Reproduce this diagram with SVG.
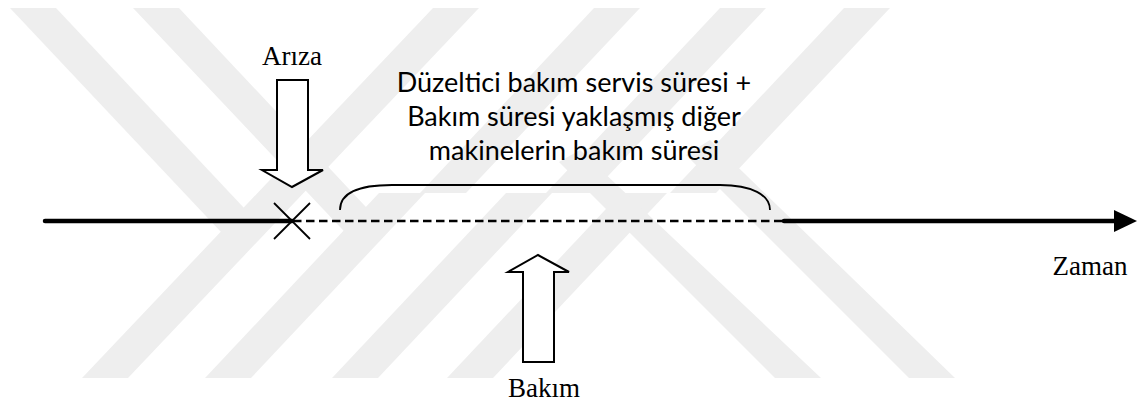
<svg xmlns="http://www.w3.org/2000/svg" width="1137" height="405" viewBox="0 0 1137 405">
  <defs>
    <style>
      .wm { fill: #eeeeee; stroke: none; }
      .serif { font-family: "Liberation Serif", "Times New Roman", serif; font-size: 27px; fill: #000; }
      .sans { font-family: Lato, "Open Sans", sans-serif; font-size: 27px; fill: #000; text-anchor: middle; }
      .block { fill: #fff; stroke: #000; stroke-width: 2; stroke-linejoin: miter; }
      .thin { fill: none; stroke: #000; stroke-width: 1.8; }
      .axis { fill: none; stroke: #000; stroke-width: 4.5; stroke-linecap: round; }
      .gap { fill: none; stroke: #000; stroke-width: 2.4; stroke-dasharray: 8.5 4.5; }
    </style>
  </defs>
  <rect width="1137" height="405" fill="#fff"/>

  <!-- background emblem: slanted bands -->
  <g id="emblem">
    <polygon class="wm" points="433,8 479,8 128,378 82,378"/>
    <polygon class="wm" points="594,8 640,8 466,193 420,193"/>
    <polygon class="wm" points="379,193 425,193 251,378 205,378"/>
    <polygon class="wm" points="720,8 766,8 592,193 546,193"/>
    <polygon class="wm" points="506,193 552,193 378,378 332,378"/>
    <polygon class="wm" points="844,8 890,8 716,193 670,193"/>
    <polygon class="wm" points="621,193 667,193 493,378 447,378"/>
    <polygon class="wm" points="10,8 56,8 244,208 221,232"/>
    <polygon class="wm" points="133,8 179,8 380,222 358,246"/>
    <polygon class="wm" points="775,378 821,378 580,150 559,162"/>
    <polygon class="wm" points="909,378 955,378 710,140 686,155"/>
  </g>

  <!-- time axis -->
  <g id="connectors">
    <line class="axis" x1="45" y1="221" x2="292" y2="221"/>
    <line class="gap" x1="293" y1="221" x2="783" y2="221"/>
    <line class="axis" x1="784" y1="221" x2="1117" y2="221"/>
    <polygon points="1114,210 1137,221 1114,232" fill="#000"/>
  </g>

  <g id="failure-mark">
    <line class="thin" x1="274" y1="203" x2="310" y2="239"/>
    <line class="thin" x1="310" y1="203" x2="274" y2="239"/>
  </g>

  <g id="failure">
    <text class="serif" x="292" y="65" text-anchor="middle">Arıza</text>
    <polygon class="block" points="277,80 308,80 308,170 323,170 292,187 262,170 277,170"/>
  </g>

  <g id="maintenance">
    <polygon class="block" points="523,362 554,362 554,272 569,272 538,255 508,272 523,272"/>
    <text class="serif" x="544" y="397" text-anchor="middle">Bakım</text>
  </g>

  <g id="duration">
    <text class="sans" x="574" y="92">Düzeltici bakım servis süresi +</text>
    <text class="sans" x="574" y="126">Bakım süresi yaklaşmış diğer</text>
    <text class="sans" x="574" y="160">makinelerin bakım süresi</text>
    <path class="thin" d="M340,210 C340,193 358,185 392,185 L720,185 C752,185 770,195 770,210"/>
  </g>

  <g id="time">
    <text class="serif" x="1090" y="275" text-anchor="middle">Zaman</text>
  </g>
</svg>
